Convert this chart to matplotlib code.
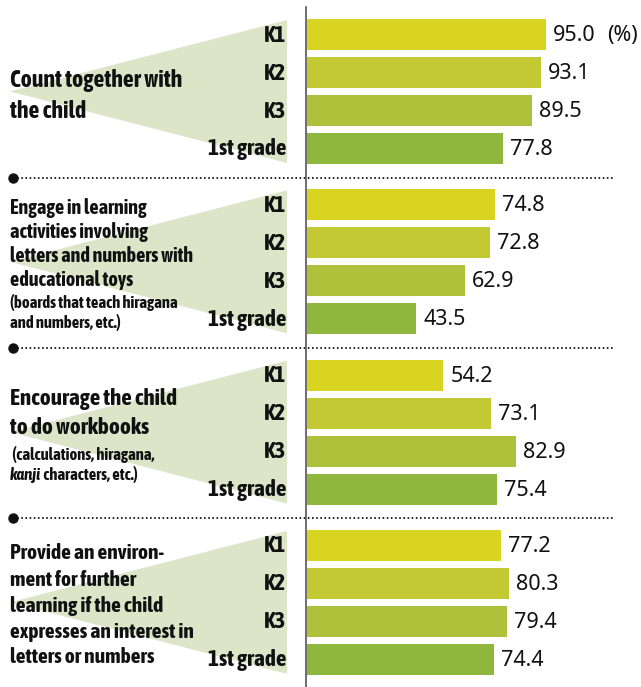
import matplotlib.pyplot as plt
from matplotlib.patches import Polygon
from matplotlib import font_manager

# data
grades = ['K1', 'K2', 'K3', '1st grade']
count_together = [95.0, 93.1, 89.5, 77.8]
educational_toys = [74.8, 72.8, 62.9, 43.5]
workbooks = [54.2, 73.1, 82.9, 75.4]
environment = [77.2, 80.3, 79.4, 74.4]
groups = [count_together, educational_toys, workbooks, environment]

# label lines per group, 'big' or 'small'
labels = [
    [('Count together with', 'big'), ('the child', 'big')],
    [('Engage in learning', 'big'), ('activities involving', 'big'),
     ('letters and numbers with', 'big'), ('educational toys', 'big'),
     ('(boards that teach hiragana', 'small'), ('and numbers, etc.)', 'small')],
    [('Encourage the child', 'big'), ('to do workbooks', 'big'),
     (' (calculations, hiragana,', 'small'), ('kanji characters, etc.)', 'small')],
    [('Provide an environ-', 'big'), ('ment for further', 'big'),
     ('learning if the child', 'big'), ('expresses an interest in', 'big'),
     ('letters or numbers', 'big')],
]
baselines = [
    [87, 118],
    [214, 238, 262, 286, 308, 328],
    [405, 434, 460, 480],
    [559, 586, 612, 638, 663],
]
# widest line of each group and its width in the reference (px)
fit_lines = [('Count together with', 171), ('letters and numbers with', 183),
             ('Encourage the child', 166), ('expresses an interest in', 182)]

colors = ['#d9d322', '#c3c932', '#adc23a', '#8fb73e']
tri_color = '#dde5c9'
ink = '#111111'

names = {f.name for f in font_manager.fontManager.ttflist}
bold_font = ['Asap Condensed', 'DejaVu Sans'] if 'Asap Condensed' in names else ['DejaVu Sans']
bold_w = 700
num_font = ['Noto Sans', 'DejaVu Sans']

W, H = 641, 687
fig = plt.figure(figsize=(W / 100, H / 100), dpi=100)
renderer = fig.canvas.get_renderer()

# overlay in pixel coordinates for the left-hand side
ov = fig.add_axes([0, 0, 1, 1])
ov.set_xlim(0, W)
ov.set_ylim(H, 0)
ov.axis('off')


def fit_size(txt, target, **kw):
    t = ov.text(0, 0, txt, fontsize=20, family=bold_font, weight=bold_w, **kw)
    w = t.get_window_extent(renderer).width
    t.remove()
    return 20 * target / w


small_size = fit_size('(boards that teach hiragana', 167)
grade_size = fit_size('1st grade', 78)

scale = 2.516  # px per percent
x0 = 307
ax = fig.add_axes([x0 / W, 0, (W - x0) / W, 1])
ax.set_xlim(0, (W - x0) / scale)
ax.set_ylim(H, 0)
ax.axis('off')
ax.patch.set_alpha(0)

top, gpitch, rpitch = 34.5, 170.3, 38
for g, vals in enumerate(groups):
    ys = [top + g * gpitch + r * rpitch for r in range(len(grades))]
    ax.barh(ys, vals, height=31, color=colors, left=0)
    for r, (y, v) in enumerate(zip(ys, vals)):
        ax.annotate(f'{v:.1f}', (v, y + 1), xytext=(5, 0), textcoords='offset points',
                    va='center', ha='left', fontsize=15.5, family=num_font, color=ink)
        if g == 0 and r == 0:
            ax.annotate('(%)', (v, y + 1), xytext=(44, 0), textcoords='offset points',
                        va='center', ha='left', fontsize=15.5, family=num_font, color=ink)
        ov.text(286, y + 7, grades[r], ha='right', va='baseline', fontsize=grade_size,
                family=bold_font, weight=bold_w, color=ink)

    c = (ys[1] + ys[2]) / 2
    ov.add_patch(Polygon([(10, c), (287, c - 71.5), (287, c + 71.5)],
                         closed=True, color=tri_color, zorder=0, lw=0))

    big_size = fit_size(*fit_lines[g])
    for (txt, kind), yb in zip(labels[g], baselines[g]):
        size = big_size if kind == 'big' else small_size
        if txt.startswith('kanji'):
            t = ov.text(10, yb, 'kanji', ha='left', va='baseline', fontsize=size,
                        family=bold_font, weight=bold_w, style='italic', color=ink)
            bb = t.get_window_extent(renderer)
            ov.text(10 + bb.width, yb, txt[5:], ha='left', va='baseline', fontsize=size,
                    family=bold_font, weight=bold_w, color=ink)
        else:
            ov.text(10, yb, txt, ha='left', va='baseline', fontsize=size,
                    family=bold_font, weight=bold_w, color=ink)

# separators
for ysep in [178, 348, 518]:
    ov.plot([13, 613], [ysep, ysep], color=ink, lw=1.3, ls=(0, (0.9, 1.4)))
    ov.plot([13], [ysep], 'o', color=ink, ms=6.5)

# vertical axis line
ov.plot([306, 306], [7, H], color='#555555', lw=1.2)

fig.savefig('out.png', dpi=100)
